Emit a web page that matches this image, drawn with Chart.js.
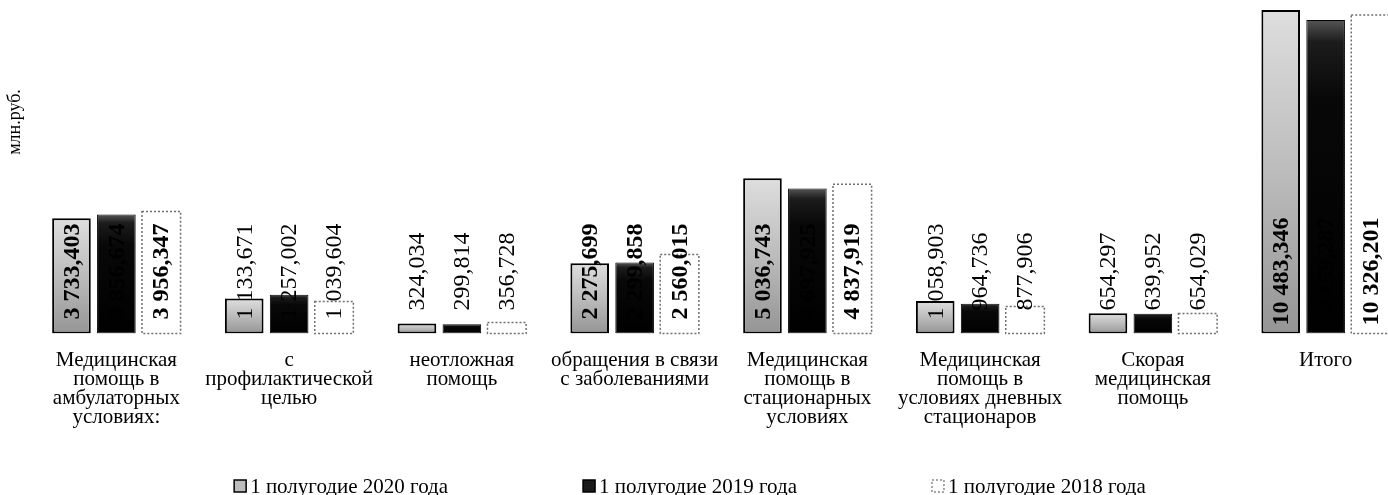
<!DOCTYPE html>
<html>
<head>
<meta charset="utf-8">
<script src="https://cdn.jsdelivr.net/npm/chart.js@4/dist/chart.umd.min.js"></script>
<style>
  html, body { margin: 0; padding: 0; background: #fff; overflow: hidden; }
  #wrap { position: absolute; left: 0; top: 0; width: 1412px; height: 495px; }
</style>
</head>
<body>
<div id="wrap"><canvas id="myChart" width="1412" height="495"></canvas></div>
<script>
var categories = [
  ['Медицинская', 'помощь в', 'амбулаторных', 'условиях:'],
  ['с', 'профилактической', 'целью'],
  ['неотложная', 'помощь'],
  ['обращения в связи', 'с заболеваниями'],
  ['Медицинская', 'помощь в', 'стационарных', 'условиях'],
  ['Медицинская', 'помощь в', 'условиях дневных', 'стационаров'],
  ['Скорая', 'медицинская', 'помощь'],
  ['Итого']
];
var h1_2020 = [3733.403, 1133.671, 324.034, 2275.699, 5036.743, 1058.903, 654.297, 10483.346];
var h1_2019 = [3856.674, 1257.002, 299.814, 2299.858, 4697.925, 964.736, 639.952, 10159.287];
var h1_2018 = [3956.347, 1039.604, 356.728, 2560.015, 4837.919, 877.906, 654.029, 10326.201];
var seriesNames = ['1 полугодие 2020 года', '1 полугодие 2019 года', '1 полугодие 2018 года'];
var unitLabel = 'млн.руб.';

var serif = "'Liberation Serif', 'Times New Roman', serif";

function fmt(v) {
  var parts = v.toFixed(3).split('.');
  return parts[0].replace(/\B(?=(\d{3})+(?!\d))/g, ' ') + ',' + parts[1];
}

// gradient per bar, from its top down to the base
function barFill(stops, fallback) {
  return function (c) {
    if (c.type !== 'data') return fallback;
    var ys = c.chart.scales.y;
    if (!ys) return fallback;
    var top = ys.getPixelForValue(c.raw);
    var base = ys.getPixelForValue(0);
    if (!isFinite(top) || !isFinite(base) || top === base) return fallback;
    var g = c.chart.ctx.createLinearGradient(0, top, 0, base);
    stops.forEach(function (s) { g.addColorStop(s[0], s[1]); });
    return g;
  };
}

var dottedBorders = {
  id: 'dottedBorders',
  afterDatasetsDraw: function (chart) {
    var ctx = chart.ctx;
    var meta = chart.getDatasetMeta(2);
    ctx.save();
    ctx.strokeStyle = '#6f6f6f';
    ctx.lineWidth = 1.5;
    ctx.setLineDash([2, 2]);
    meta.data.forEach(function (el) {
      var w = el.width;
      ctx.strokeRect(el.x - w / 2, el.y, w, el.base - el.y);
    });
    ctx.restore();
  }
};

var valueLabels = {
  id: 'valueLabels',
  afterDatasetsDraw: function (chart) {
    var ctx = chart.ctx;
    var base = chart.scales.y.getPixelForValue(0);
    chart.data.datasets.forEach(function (ds, di) {
      chart.getDatasetMeta(di).data.forEach(function (el, i) {
        var v = ds.data[i];
        ctx.save();
        ctx.translate(el.x, base - 62);
        ctx.rotate(-Math.PI / 2);
        ctx.textAlign = 'center';
        ctx.textBaseline = 'middle';
        ctx.fillStyle = '#000';
        ctx.font = (v >= 2000 ? 'bold 24px ' : '24px ') + serif;
        ctx.fillText(fmt(v), 0, 1);
        ctx.restore();
      });
    });
  }
};

var unitTitle = {
  id: 'unitTitle',
  afterDraw: function (chart) {
    var ctx = chart.ctx;
    ctx.save();
    ctx.translate(15, 122);
    ctx.rotate(-Math.PI / 2);
    ctx.textAlign = 'center';
    ctx.textBaseline = 'middle';
    ctx.fillStyle = '#000';
    ctx.font = '18px ' + serif;
    ctx.fillText(unitLabel, 0, 0);
    ctx.restore();
  }
};

// legend drawn by hand: wide gaps between items like the original
var legendFill = ['#bdbdbd', '#1a1a1a', '#ffffff'];
var legendStroke = ['#000', '#000', '#888'];
var bottomLegend = {
  id: 'bottomLegend',
  afterDraw: function (chart) {
    var ctx = chart.ctx;
    var gap = 135, box = 12, y = 486, centerX = 690;
    ctx.save();
    ctx.font = '21px ' + serif;
    ctx.textBaseline = 'middle';
    ctx.fillStyle = '#000';
    var widths = seriesNames.map(function (t) { return box + 4 + ctx.measureText(t).width; });
    var total = widths.reduce(function (a, b) { return a + b; }, 0) + gap * (widths.length - 1);
    var x = centerX - total / 2;
    seriesNames.forEach(function (t, i) {
      ctx.fillStyle = legendFill[i];
      ctx.fillRect(x, y - box / 2, box, box);
      ctx.strokeStyle = legendStroke[i];
      ctx.lineWidth = 1.5;
      ctx.setLineDash(i === 2 ? [2, 2] : []);
      ctx.strokeRect(x, y - box / 2, box, box);
      ctx.setLineDash([]);
      ctx.fillStyle = '#000';
      ctx.fillText(t, x + box + 4, y + 1);
      x += widths[i] + gap;
    });
    ctx.restore();
  }
};

var myChart = new Chart(document.getElementById('myChart'), {
  type: 'bar',
  data: {
    labels: categories,
    datasets: [{
      label: seriesNames[0],
      data: h1_2020,
      backgroundColor: barFill([[0, '#dedede'], [0.5, '#bcbcbc'], [1, '#959595']], '#bdbdbd'),
      borderColor: '#000',
      borderWidth: 2,
      borderSkipped: false
    }, {
      label: seriesNames[1],
      data: h1_2019,
      backgroundColor: barFill([[0, '#555555'], [0.07, '#1c1c1c'], [0.25, '#080808'], [1, '#000']], '#111'),
      borderColor: '#000',
      borderWidth: 1,
      borderSkipped: false
    }, {
      label: seriesNames[2],
      data: h1_2018,
      backgroundColor: '#ffffff',
      borderWidth: 0
    }]
  },
  options: {
    responsive: false,
    animation: false,
    devicePixelRatio: 1,
    layout: { padding: { left: 30, top: 8, right: 0, bottom: 51 } },
    datasets: { bar: { categoryPercentage: 0.78, barPercentage: 0.86 } },
    scales: {
      x: {
        grid: { display: false, drawTicks: false },
        border: { display: false },
        ticks: {
          color: '#000',
          padding: 17,
          maxRotation: 0,
          autoSkip: false,
          font: { family: serif, size: 21, lineHeight: 0.91 }
        }
      },
      y: { display: false, min: 0, max: 10550 }
    },
    plugins: {
      tooltip: { enabled: false },
      legend: { display: false }
    }
  },
  plugins: [dottedBorders, valueLabels, unitTitle, bottomLegend]
});
</script>
</body>
</html>
